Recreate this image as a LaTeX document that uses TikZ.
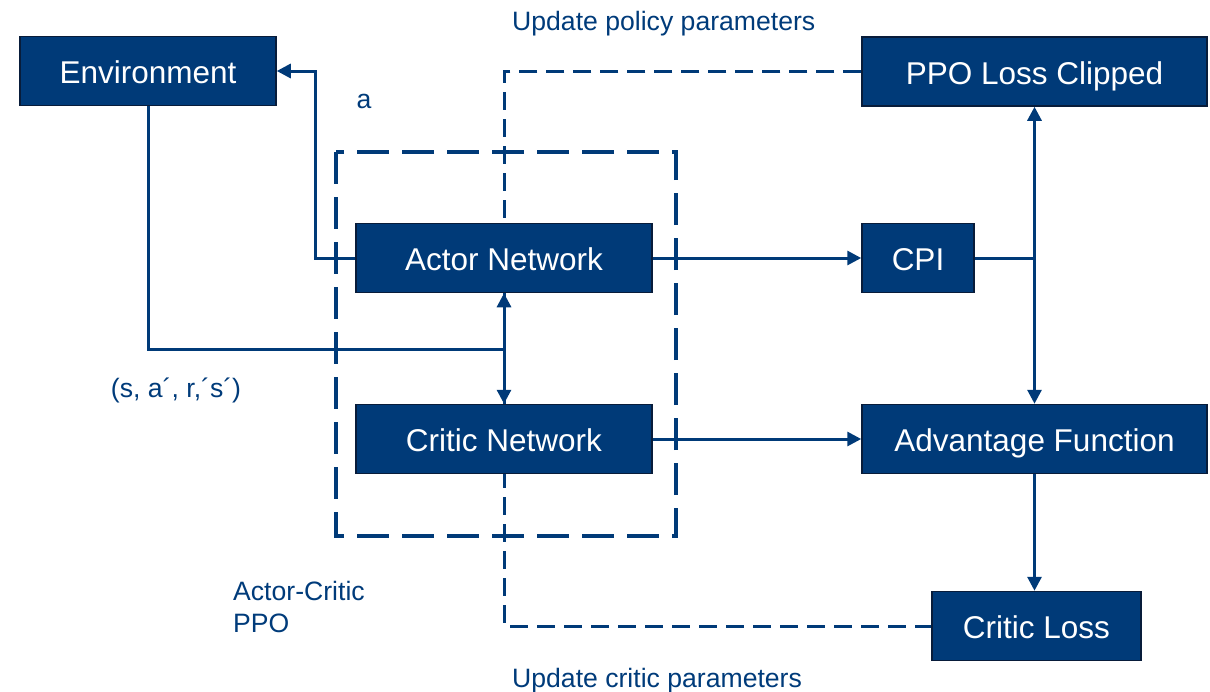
\documentclass[tikz,border=0pt]{standalone}
\usepackage{fontspec}
\setmainfont{Liberation Sans}
\usetikzlibrary{arrows.meta,backgrounds}
\definecolor{bluefill}{RGB}{0,58,120}
\definecolor{bluetext}{RGB}{0,59,122}
\definecolor{boxedge}{RGB}{8,28,58}
\begin{document}
\begin{tikzpicture}[x=1pt,y=-1pt,
  box/.style={draw=boxedge, line width=1.5pt, fill=bluefill, text=white,
    font=\fontsize{31.5}{36}\selectfont, inner sep=0pt, minimum height=69pt,
    text height=25pt, text depth=0pt, anchor=center},
  conn/.style={draw=bluefill, line width=3pt},
  arr/.style={conn, -{Triangle[length=14pt,width=14pt]}},
  darr/.style={conn, {Triangle[length=14pt,width=14pt]}-{Triangle[length=14pt,width=14pt]}},
  upd/.style={draw=bluefill, line width=3pt, dash pattern=on 18pt off 9pt},
  group/.style={draw=bluefill, line width=3.5pt, dash pattern=on 32pt off 13pt},
  lbl/.style={text=bluetext, font=\fontsize{26.6}{30}\selectfont, inner sep=0pt}
]
\useasboundingbox (0,0) rectangle (1210,691);

% boxes
\node[box, minimum width=256pt] (env) at (148,71) {Environment};
\node[box, minimum width=296pt] (actor) at (504,258) {Actor Network};
\node[box, minimum width=296pt] (critic) at (504,439) {Critic Network};
\node[box, minimum width=112pt] (cpi) at (918,258) {CPI};
\node[box, minimum width=345pt] (ppo) at (1034.5,71.5) {PPO Loss Clipped};
\node[box, minimum width=345pt] (adv) at (1034.5,439) {Advantage Function};
\node[box, minimum width=209pt] (closs) at (1036.5,626) {Critic Loss};

% labels
\node[lbl, anchor=base west] (lpol) at (512,30) {Update policy parameters};
\node[lbl, anchor=base west] (lcrit) at (512,687) {Update critic parameters};
\node[lbl, anchor=base] (la) at (364,108) {a};
\node[lbl] (ltuple) at (176,390) {(s, a´, r,´s´)};
\node[lbl, anchor=base west] (lac) at (233,600) {Actor-Critic};
\node[lbl, anchor=base west] (lppo) at (233,632) {PPO};

\coordinate (junc) at (504,349);
\coordinate (j2) at (ppo.south |- cpi.east);

\begin{scope}[on background layer]
  % update dashed path
  \draw[upd] (ppo.west) -- (actor.center |- ppo.west) -- (actor.center |- closs.west) -- (closs.west);
  % actor-critic group
  \draw[group] (336,152) rectangle (676,536);
  % connectors
  \draw[arr] (actor.west) -- ++(-40,0) |- (env.east);
  \draw[conn] (env.south) |- (junc);
  \draw[darr] (actor.south) -- (critic.north);
  \draw[arr] (actor.east) -- (cpi.west);
  \draw[arr] (critic.east) -- (adv.west);
  \draw[conn] (cpi.east) -- (j2);
  \draw[arr] (j2) -- (ppo.south);
  \draw[arr] (j2) -- (adv.north);
  \draw[arr] (adv.south) -- (adv.south |- closs.north);
\end{scope}
\end{tikzpicture}
\end{document}
